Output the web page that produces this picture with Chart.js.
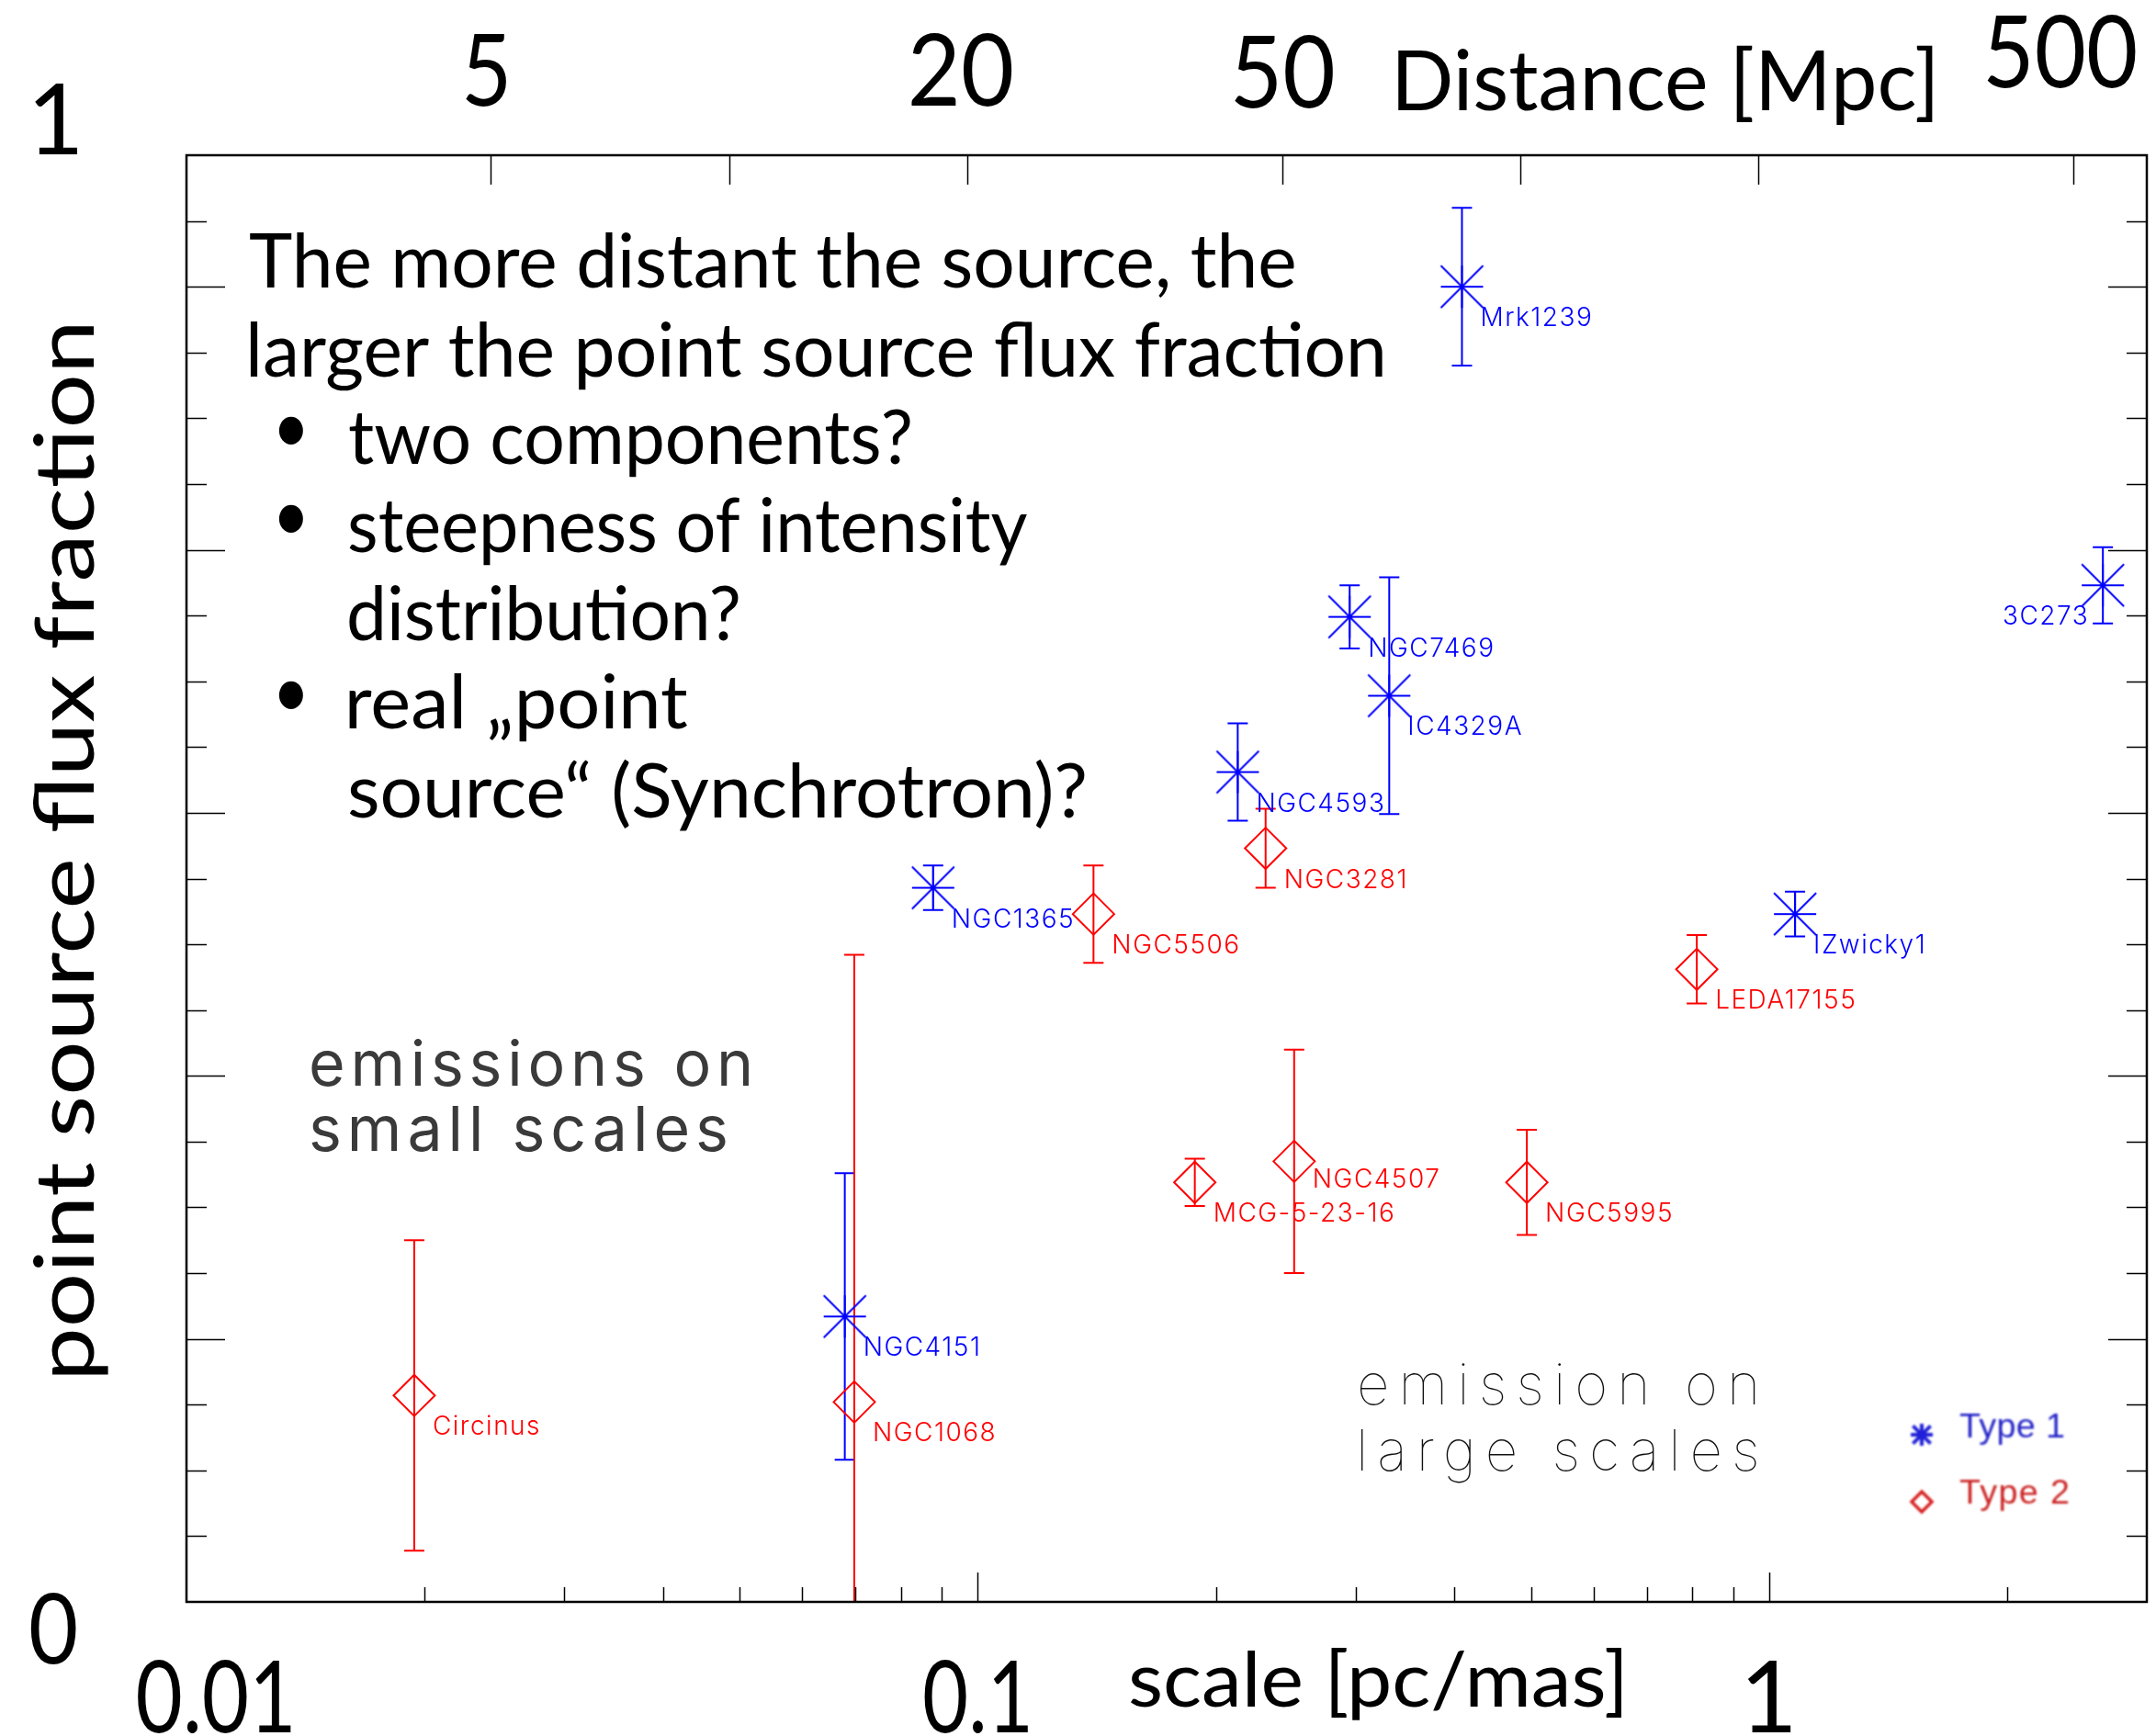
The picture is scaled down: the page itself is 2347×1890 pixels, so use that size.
<!DOCTYPE html>
<html>
<head>
<meta charset="utf-8">
<script src="https://cdn.jsdelivr.net/npm/chart.js@4.4.1/dist/chart.umd.min.js"></script>
<style>
  html, body { margin: 0; padding: 0; background: #ffffff; }
  canvas { display: block; }
</style>
</head>
<body>
<canvas id="chart" width="2347" height="1890"></canvas>
<script>
// ---- data: point source flux fraction vs. linear scale (pc per mas) ----
// Type 1 sources
const type1Names = ['Mrk1239', '3C273', 'NGC7469', 'IC4329A', 'NGC4593', 'NGC1365', 'IZwicky1', 'NGC4151'];
const type1Scale = [0.409, 2.64, 0.295, 0.331, 0.213, 0.0878, 1.078, 0.0679];
const type1Frac  = [1.000, 0.773, 0.749, 0.689, 0.631, 0.543, 0.523, 0.217];
const type1Err   = [0.060, 0.029, 0.024, 0.090, 0.037, 0.017, 0.017, 0.109];

// Type 2 sources
const type2Names = ['NGC3281', 'NGC5506', 'LEDA17155', 'NGC4507', 'MCG-5-23-16', 'NGC5995', 'Circinus', 'NGC1068'];
const type2Scale = [0.231, 0.140, 0.810, 0.251, 0.188, 0.494, 0.0194, 0.0698];
const type2Frac  = [0.573, 0.523, 0.481, 0.335, 0.319, 0.319, 0.157, 0.152];
const type2Err   = [0.030, 0.037, 0.026, 0.085, 0.018, 0.040, 0.118, 0.340];

// axis ticks
const scaleLabelValues = [0.01, 0.1, 1];
const scaleLabelText   = ['0.01', '0.1', '1'];
const distanceTickValues  = [5, 10, 20, 50, 100, 200, 500];   // Mpc
const distanceLabelValues = [5, 20, 50, 500];
const distanceLabelText   = ['5', '20', '50', '500'];
const fracTickStep = 0.05;
const PC_PER_MAS_PER_MPC = 0.004848;   // 1 mas at 1 Mpc

// annotation text
const noteLines = [
  'The more distant the source, the',
  'larger the point source flux fraction',
  'two components?',
  'steepness of intensity',
  'distribution?',
  'real \u201Epoint',
  'source\u201C (Synchrotron)?'
];

// ---- styles / layout ----
const BLUE = '#0000ff', RED = '#ff0000';
const SANS = 'Lato, "Open Sans", "DejaVu Sans", sans-serif';
const GEO = 'Inter, "DejaVu Sans", sans-serif';
const labelOffset = { dx: 20, dy: 43 };
const labelOverrides = { '3C273': { dx: -15, align: 'right' }, 'NGC4507': { dy: 29 } };

function makeAsterisk(span, color, lw) {
  const pad = 2;
  const c = document.createElement('canvas');
  c.width = span + 2 * pad; c.height = span + 2 * pad;
  const g = c.getContext('2d');
  g.strokeStyle = color; g.lineWidth = lw;
  const a = pad, b = pad + span, m = pad + span / 2;
  g.beginPath();
  g.moveTo(a, m); g.lineTo(b, m);
  g.moveTo(m, a); g.lineTo(m, b);
  g.moveTo(a, a); g.lineTo(b, b);
  g.moveTo(b, a); g.lineTo(a, b);
  g.stroke();
  return c;
}

function toPoints(names, xs, ys, errs) {
  return names.map((n, i) => ({ x: xs[i], y: ys[i], err: errs[i], name: n }));
}

// text drawing: fits ink extents to a target box, size from cap height
function drawText(ctx, text, o) {
  ctx.save();
  const weight = o.weight || 400;
  let size = o.size;
  if (o.cap) {
    ctx.font = `${weight} 200px ${o.family}`;
    const r = ctx.measureText('H').actualBoundingBoxAscent / 200;
    size = o.cap / r;
  }
  ctx.font = `${weight} ${size}px ${o.family}`;
  ctx.fillStyle = o.color || '#000';
  ctx.textAlign = 'left';
  ctx.textBaseline = 'alphabetic';
  if (o.filter) ctx.filter = o.filter;
  const m = ctx.measureText(text);
  const inkL = -m.actualBoundingBoxLeft;
  const inkW = m.actualBoundingBoxRight + m.actualBoundingBoxLeft;
  let target = null;
  if (o.left != null && o.right != null) target = o.right - o.left;
  else if (o.width) target = o.width;
  let sx = 1;
  if (target) {
    const n = Array.from(text).length;
    if (o.mode === 'spacing' && 'letterSpacing' in ctx && n > 1) {
      ctx.letterSpacing = ((target - inkW) / (n - 1)) + 'px';
    } else {
      sx = target / inkW;
    }
  }
  const w = target || inkW;
  let left;
  if (o.left != null) left = o.left;
  else if (o.center != null) left = o.center - w / 2;
  else left = o.right - w;
  ctx.translate(left, o.y);
  ctx.scale(sx, 1);
  ctx.fillText(text, -inkL, 0);
  ctx.restore();
}

function line(ctx, x1, y1, x2, y2) {
  ctx.beginPath(); ctx.moveTo(x1, y1); ctx.lineTo(x2, y2); ctx.stroke();
}

// vertical error bars with caps
const errorBarPlugin = {
  id: 'errorBars',
  beforeDatasetsDraw(chart) {
    const { ctx, chartArea: a, scales: { x, y } } = chart;
    ctx.save();
    ctx.beginPath();
    ctx.rect(a.left, a.top, a.right - a.left, a.bottom - a.top);
    ctx.clip();
    chart.data.datasets.forEach(ds => {
      ctx.strokeStyle = ds.borderColor;
      ctx.lineWidth = 2;
      ds.data.forEach(p => {
        const px = x.getPixelForValue(p.x);
        const top = y.getPixelForValue(p.y + p.err);
        const bot = y.getPixelForValue(p.y - p.err);
        ctx.beginPath();
        ctx.moveTo(px, top); ctx.lineTo(px, bot);
        ctx.moveTo(px - 11, top); ctx.lineTo(px + 11, top);
        ctx.moveTo(px - 11, bot); ctx.lineTo(px + 11, bot);
        ctx.stroke();
      });
    });
    ctx.restore();
  }
};

// frame, inward ticks, point labels
const framePlugin = {
  id: 'frame',
  afterDatasetsDraw(chart) {
    const { ctx, chartArea: a, scales: { x, y } } = chart;
    ctx.save();
    ctx.strokeStyle = '#000';
    ctx.lineWidth = 1.5;
    // bottom: log ticks of the scale axis
    [0.01, 0.1, 1].forEach(dec => {
      for (let k = 1; k <= 9; k++) {
        const v = k * dec;
        if (v <= x.min * 1.0001 || v >= x.max * 0.9999) continue;
        const px = Math.round(x.getPixelForValue(v)) + 0.5;
        line(ctx, px, a.bottom, px, a.bottom - (k === 1 ? 32 : 16));
      }
    });
    // top: distance ticks
    distanceTickValues.forEach(d => {
      const px = Math.round(x.getPixelForValue(d * PC_PER_MAS_PER_MPC)) + 0.5;
      line(ctx, px, a.top, px, a.top + 32);
    });
    // left / right: flux fraction ticks
    const n = Math.round(y.max / fracTickStep);
    for (let i = 1; i < n; i++) {
      const py = Math.round(y.getPixelForValue(i * fracTickStep)) + 0.5;
      const len = (i % 4 === 0) ? 42 : 22;
      line(ctx, a.left, py, a.left + len, py);
      line(ctx, a.right, py, a.right - len, py);
    }
    ctx.lineWidth = 2.5;
    ctx.strokeRect(a.left, a.top, a.right - a.left, a.bottom - a.top);

    // point labels
    ctx.font = `300 28px ${GEO}`;
    if ('letterSpacing' in ctx) ctx.letterSpacing = '1.5px';
    ctx.textBaseline = 'alphabetic';
    chart.data.datasets.forEach(ds => {
      ctx.fillStyle = ds.borderColor;
      ds.data.forEach(p => {
        const o = Object.assign({}, labelOffset, labelOverrides[p.name] || {});
        ctx.textAlign = o.align || 'left';
        ctx.fillText(p.name, x.getPixelForValue(p.x) + o.dx, y.getPixelForValue(p.y) + o.dy);
      });
    });
    ctx.restore();
  }
};

// axis labels, titles, notes and legend
const textPlugin = {
  id: 'texts',
  afterDraw(chart) {
    const { ctx, chartArea: a, scales: { x, y } } = chart;

    // bottom scale labels
    const bottomNudge = [30.5, -1.5, 0];
    const bottomWidth = [167, 113, null];
    scaleLabelValues.forEach((v, i) => {
      drawText(ctx, scaleLabelText[i], { family: SANS, cap: 78, y: a.bottom + 142,
        center: x.getPixelForValue(v) + bottomNudge[i], width: bottomWidth[i] });
    });
    drawText(ctx, 'scale [pc/mas]', { family: SANS, cap: 60, y: a.bottom + 114, left: 1230, right: 1765 });

    // top distance labels
    const topNudge = [[-5, 0], [-6, 0], [2, 2], [-13, -20]];
    const topWidth = [44, 109, 107, 161];
    distanceLabelValues.forEach((d, i) => {
      drawText(ctx, distanceLabelText[i], { family: SANS, cap: 78, y: a.top - 54 + topNudge[i][1],
        center: x.getPixelForValue(d * PC_PER_MAS_PER_MPC) + topNudge[i][0], width: topWidth[i] });
    });
    drawText(ctx, 'Distance [Mpc]', { family: SANS, cap: 65, y: a.top - 49, left: 1522, right: 2104 });

    // fraction axis end labels and title
    drawText(ctx, '1', { family: SANS, cap: 77, y: a.top - 1, center: 61 });
    drawText(ctx, '0', { family: SANS, cap: 77, y: a.bottom + 67, center: 58, width: 49 });
    ctx.save();
    ctx.translate(102, 926);
    ctx.rotate(-Math.PI / 2);
    drawText(ctx, 'point source flux fraction', { family: SANS, cap: 64, y: 0, center: 0, width: 1142 });
    ctx.restore();

    // note block
    const noteBase = [313, 409.5, 505, 601, 697, 793, 890];
    const noteLeft = [272, 272, 380, 380, 380, 380, 380];
    const noteRight = [1409, 1505, 991, 1118, 804, 749, 1181];
    noteLines.forEach((t, i) => {
      drawText(ctx, t, { family: SANS, cap: 58, y: noteBase[i], left: noteLeft[i], right: noteRight[i] });
    });
    [2, 3, 5].forEach(i => {
      drawText(ctx, '\u2022', { family: SANS, cap: 58, y: noteBase[i] - 12, center: 317, width: 27 });
    });

    // region notes
    drawText(ctx, 'emissions on', { family: GEO, size: 68, weight: 400, color: '#3a3a3a', y: 1182,
      left: 339, right: 815, mode: 'spacing', filter: 'blur(0.5px)' });
    drawText(ctx, 'small scales', { family: GEO, size: 68, weight: 400, color: '#3a3a3a', y: 1253,
      left: 339, right: 790, mode: 'spacing', filter: 'blur(0.5px)' });
    drawText(ctx, 'emission on', { family: GEO, size: 62, weight: 100, color: '#111', y: 1529,
      left: 1480, right: 1911, mode: 'spacing' });
    drawText(ctx, 'large scales', { family: GEO, size: 62, weight: 100, color: '#111', y: 1601,
      left: 1481, right: 1912, mode: 'spacing' });

    // legend
    ctx.save();
    ctx.filter = 'blur(0.9px)';
    const ds = chart.data.datasets;
    ctx.strokeStyle = '#2020d8'; ctx.lineWidth = 4;
    const cx = 2092, cy1 = 1562, cy2 = 1635, r = 12;
    ctx.beginPath();
    ctx.moveTo(cx - r, cy1); ctx.lineTo(cx + r, cy1);
    ctx.moveTo(cx, cy1 - r); ctx.lineTo(cx, cy1 + r);
    ctx.moveTo(cx - r * 0.8, cy1 - r * 0.8); ctx.lineTo(cx + r * 0.8, cy1 + r * 0.8);
    ctx.moveTo(cx + r * 0.8, cy1 - r * 0.8); ctx.lineTo(cx - r * 0.8, cy1 + r * 0.8);
    ctx.stroke();
    ctx.strokeStyle = '#d82020'; ctx.lineWidth = 3.5;
    ctx.beginPath();
    ctx.moveTo(cx - 11, cy2); ctx.lineTo(cx, cy2 - 11); ctx.lineTo(cx + 11, cy2); ctx.lineTo(cx, cy2 + 11);
    ctx.closePath(); ctx.stroke();
    ctx.restore();
    drawText(ctx, ds[0].label, { family: '"Liberation Sans", Arimo, sans-serif', cap: 26, color: '#2424c8',
      y: 1565, left: 2133, right: 2247, mode: 'spacing', filter: 'blur(0.8px)' });
    drawText(ctx, ds[1].label, { family: '"Liberation Sans", Arimo, sans-serif', cap: 26, color: '#cc2424',
      y: 1637, left: 2133, right: 2252, mode: 'spacing', filter: 'blur(0.8px)' });
  }
};

const ctx = document.getElementById('chart').getContext('2d');
new Chart(ctx, {
  type: 'scatter',
  data: {
    datasets: [
      {
        label: 'Type 1',
        data: toPoints(type1Names, type1Scale, type1Frac, type1Err),
        borderColor: BLUE,
        backgroundColor: BLUE,
        pointStyle: makeAsterisk(46, BLUE, 2),
        pointRadius: 23
      },
      {
        label: 'Type 2',
        data: toPoints(type2Names, type2Scale, type2Frac, type2Err),
        borderColor: RED,
        backgroundColor: 'rgba(0,0,0,0)',
        pointStyle: 'rectRot',
        pointRadius: 22.5,
        pointBorderWidth: 2
      }
    ]
  },
  options: {
    responsive: false,
    animation: false,
    devicePixelRatio: 1,
    layout: { autoPadding: false, padding: { left: 203, right: 10, top: 169, bottom: 146 } },
    scales: {
      x: { type: 'logarithmic', min: 0.01, max: 3, display: false },
      y: { type: 'linear', min: 0, max: 1.1, display: false }
    },
    plugins: {
      legend: { display: false },
      tooltip: { enabled: false }
    }
  },
  plugins: [errorBarPlugin, framePlugin, textPlugin]
});
</script>
</body>
</html>
